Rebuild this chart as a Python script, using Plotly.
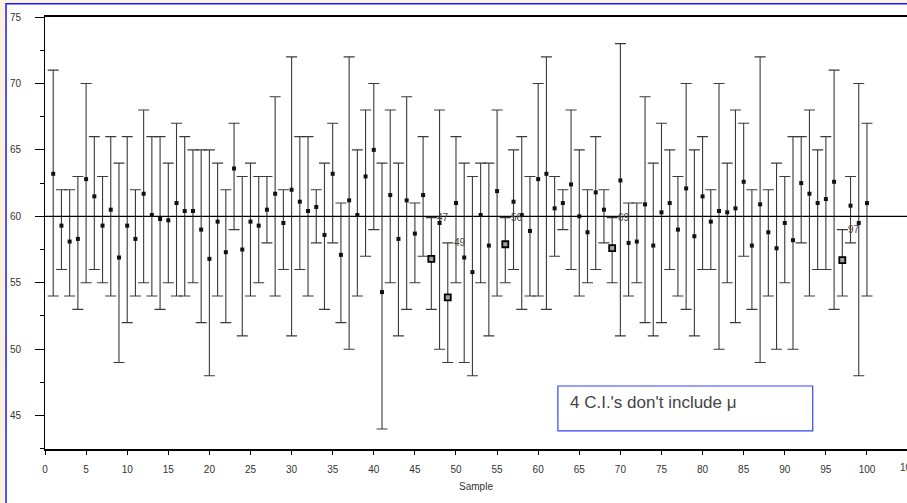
import plotly.graph_objects as go

# ---------------- data ----------------
samples = list(range(1, 101))
means = [63.2, 59.3, 58.1, 58.3, 62.8, 61.5, 59.3, 60.5, 56.9, 59.3,
         58.3, 61.7, 60.1, 59.8, 59.7, 61.0, 60.4, 60.4, 59.0, 56.8,
         59.6, 57.3, 63.6, 57.5, 59.6, 59.3, 60.5, 61.7, 59.5, 62.0,
         61.1, 60.4, 60.7, 58.6, 63.2, 57.1, 61.2, 60.1, 63.0, 65.0,
         54.3, 61.6, 58.3, 61.2, 58.7, 61.6, 56.8, 59.5, 53.9, 61.0,
         56.9, 55.8, 60.1, 57.8, 61.9, 57.9, 61.1, 60.1, 58.9, 62.8,
         63.2, 60.6, 61.0, 62.4, 60.0, 58.8, 61.8, 60.5, 57.6, 62.7,
         58.0, 58.1, 60.9, 57.8, 60.3, 61.0, 59.0, 62.1, 58.5, 61.5,
         59.6, 60.4, 60.3, 60.6, 62.6, 57.8, 60.9, 58.8, 57.6, 59.5,
         58.2, 62.5, 61.7, 61.0, 61.3, 62.6, 56.7, 60.8, 59.5, 61.0]
upper = [71, 62, 62, 63, 70, 66, 63, 66, 64, 66,
         62, 68, 66, 66, 64, 67, 66, 65, 65, 65,
         64, 62, 67, 63, 64, 63, 63, 69, 62, 72,
         66, 66, 62, 64, 67, 61, 72, 65, 68, 70,
         64, 68, 64, 69, 61, 66, 59.9, 68, 58, 66,
         64, 63, 64, 64, 68, 59.9, 65, 66, 63, 70,
         72, 63, 62, 68, 65, 62, 66, 62, 59.9, 73,
         61, 61, 69, 64, 67, 65, 63, 70, 65, 66,
         62, 70, 64, 68, 67, 62, 72, 62, 64, 63,
         66, 66, 68, 65, 66, 71, 59, 63, 70, 67]
lower = [54, 56, 54, 53, 55, 56, 55, 54, 49, 52,
         54, 55, 54, 53, 55, 54, 54, 55, 52, 48,
         54, 52, 59, 51, 54, 55, 58, 54, 56, 51,
         56, 54, 58, 53, 58, 52, 50, 54, 57, 59,
         44, 55, 51, 53, 55, 57, 53, 50, 49, 55,
         49, 48, 55, 51, 54, 55, 56, 53, 54, 54,
         53, 57, 59, 56, 54, 55, 56, 58, 55, 51,
         54, 55, 52, 51, 52, 56, 54, 53, 51, 56,
         56, 50, 55, 52, 57, 53, 49, 54, 50, 55,
         50, 58, 54, 56, 56, 53, 54, 58, 48, 54]
mu = 60
flagged = [47, 49, 56, 69, 97]
x_ticks = list(range(0, 101, 5))
x_tick_cut = "105"
y_ticks = [45, 50, 55, 60, 65, 70, 75]
x_title = "Sample"
note_text = "4 C.I.'s don't include \u03bc"

# ---------------- derived ----------------
err_plus = [u - m for u, m in zip(upper, means)]
err_minus = [m - l for m, l in zip(means, lower)]
fx = flagged
fy = [means[s - 1] for s in flagged]

XMAX = 104.87
YMIN, YMAX = 42.49, 75

FONT = "Liberation Sans, Arial, sans-serif"
fig = go.Figure()

fig.add_trace(go.Scatter(
    x=samples, y=means, mode="markers",
    marker=dict(symbol="square", size=4, color="#111111"),
    error_y=dict(type="data", symmetric=False, array=err_plus, arrayminus=err_minus,
                 color="#3a3a3a", thickness=1.1, width=5.5),
    showlegend=False, hoverinfo="skip", cliponaxis=False,
))
fig.add_trace(go.Scatter(
    x=fx, y=fy, mode="markers",
    marker=dict(symbol="square", size=6, color="#a0a0a0", line=dict(color="#000", width=1.8)),
    showlegend=False, hoverinfo="skip", cliponaxis=False,
))

# mu line
fig.add_shape(type="line", xref="paper", yref="y", x0=0, x1=1, y0=mu, y1=mu,
              line=dict(color="#000", width=1.2), layer="above")

# outer white frame with blue border
fig.add_shape(type="rect", xref="paper", yref="paper",
              x0=-0.0452, x1=1.2, y0=-0.2, y1=1.0305,
              fillcolor="white", line=dict(color="#1a1aff", width=1.5), layer="below")

# labels for flagged samples
for s in flagged:
    fig.add_annotation(x=s, y=upper[s - 1], text=str(s), showarrow=False,
                       xanchor="left", yanchor="middle", xshift=4,
                       font=dict(family=FONT, size=10, color="#444"))

# cut-off tick label at right edge (clipped in the reference too)
fig.add_annotation(xref="paper", yref="paper", x=105 / XMAX, y=0, text=x_tick_cut,
                   showarrow=False, xanchor="center", yanchor="top", yshift=-11,
                   font=dict(family=FONT, size=10, color="#333"))

# note box
fig.add_shape(type="rect", xref="x", yref="y", x0=62.4, x1=93.4, y0=43.85, y1=47.23,
              fillcolor="white", line=dict(color="#3344ff", width=1.2), layer="above")
fig.add_annotation(x=63.6, y=46.0, xref="x", yref="y", text=note_text, showarrow=False,
                   xanchor="left", yanchor="middle",
                   font=dict(family=FONT, size=17, color="#444"))

fig.update_layout(
    width=907, height=503,
    margin=dict(l=45, r=0, t=17, b=54),
    paper_bgcolor="#fbf3dd", plot_bgcolor="white",
    font=dict(family=FONT, size=10, color="#333"),
    xaxis=dict(range=[0, XMAX], tickmode="array", tickvals=x_ticks,
               ticktext=[str(v) for v in x_ticks],
               showgrid=False, zeroline=False, showline=True, linecolor="#000",
               linewidth=1.5, mirror=True, ticks="outside", ticklen=4, tickcolor="#000",
               ticklabelstandoff=6,
               title=dict(text=x_title, font=dict(size=10, color="#333"), standoff=9)),
    yaxis=dict(range=[YMIN, YMAX], tickmode="array", tickvals=y_ticks,
               showgrid=False, zeroline=False, showline=True, linecolor="#000",
               linewidth=1, ticks="outside", ticklen=9, tickcolor="#000",
               ticklabelstandoff=12,
               minor=dict(ticks="outside", ticklen=4, dtick=2.5, tickcolor="#000")),
)

fig.write_html("out.html")
